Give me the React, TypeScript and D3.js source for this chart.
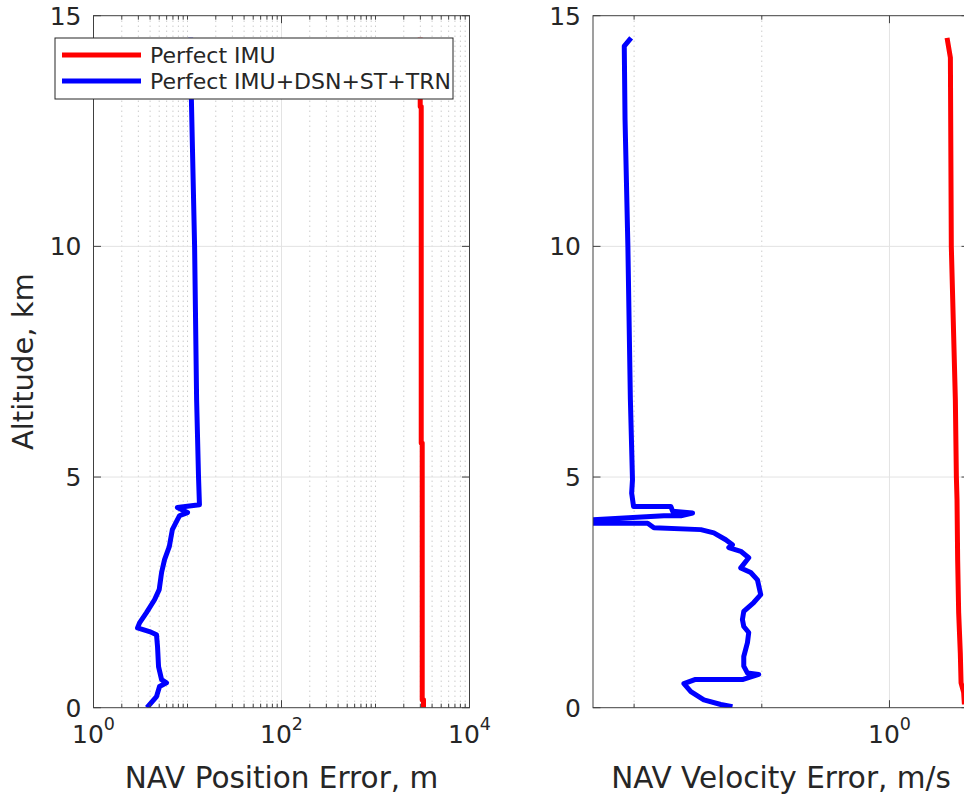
import React, { useRef, useEffect } from 'react';
import * as d3 from 'd3';

// NAV position error (left panel), altitude km / error m
const posBlueAlt = [14.52, 13.18, 10.0, 6.68, 5.0, 4.40, 4.34, 4.23, 4.16, 4.03, 3.86, 3.49, 3.21, 2.93, 2.56, 2.34, 2.06, 1.84, 1.73, 1.65, 1.58, 1.32, 0.89, 0.61, 0.54, 0.46, 0.24, 0.0];
const posBlueErr = [10.8, 11.0, 11.9, 12.5, 13.1, 13.4, 7.8, 10.0, 8.2, 7.6, 6.9, 6.4, 5.7, 5.3, 5.0, 4.46, 3.66, 3.09, 2.94, 3.94, 4.68, 4.80, 4.92, 5.3, 5.98, 5.04, 4.68, 3.7];
const posRedAlt = [14.52, 13.03, 13.03, 5.74, 5.74, 0.17, 0.17, 0.0];
const posRedErr = [2990, 2990, 3065, 3065, 3140, 3140, 3240, 3240];

// NAV velocity error (right panel), altitude km / error m/s
const velBlueAlt = [14.52, 14.34, 12.75, 10.0, 6.68, 4.94, 4.65, 4.36, 4.36, 4.26, 4.22, 4.16, 4.16, 4.06, 4.00, 4.00, 3.90, 3.86, 3.79, 3.64, 3.53, 3.47, 3.39, 3.25, 3.03, 2.93, 2.77, 2.45, 2.28, 2.09, 1.91, 1.76, 1.63, 1.41, 1.11, 0.90, 0.75, 0.72, 0.61, 0.61, 0.52, 0.35, 0.17, 0.07, 0.02];
const velBlueErr = [0.246, 0.237, 0.238, 0.2417, 0.245, 0.2478, 0.2467, 0.2493, 0.3053, 0.3081, 0.3434, 0.3223, 0.2939, 0.19, 0.19, 0.2691, 0.2784, 0.3591, 0.3854, 0.4112, 0.4264, 0.418, 0.4461, 0.4658, 0.4461, 0.4709, 0.4884, 0.4972, 0.4786, 0.4534, 0.4501, 0.4534, 0.4658, 0.4626, 0.4534, 0.4534, 0.4626, 0.4918, 0.4501, 0.3477, 0.3276, 0.3402, 0.3651, 0.4003, 0.4264];
const velRedAlt = [14.52, 14.09, 10.0, 6.68, 5.0, 4.51, 3.21, 2.06, 1.19, 0.54, 0.33, 0.07];
const velRedErr = [1.367, 1.392, 1.399, 1.430, 1.438, 1.443, 1.448, 1.456, 1.469, 1.475, 1.496, 1.502];

const altTicks = [0, 5, 10, 15];
const posMajorTicks = [1, 100, 10000];
const velMajorTicks = [1];
const velMinorTicks = [0.25, 0.5];
const legendLabels = ['Perfect IMU', 'Perfect IMU+DSN+ST+TRN'];
const legendColors = ['#ff0000', '#0000ff'];

const FONT = 'DejaVu Sans, sans-serif';
const TXT = '#262626';

function App() {
  const svgRef = useRef(null);

  useEffect(() => {
    const svg = d3.select(svgRef.current);
    svg.selectAll('*').remove();

    const top = 15.7, bottom = 707.7;
    const y = d3.scaleLinear().domain([0, 15]).range([bottom, top]);

    const posMinor = [];
    for (let e = 0; e < 4; e++) for (let k = 2; k <= 10; k++) {
      const v = k * Math.pow(10, e);
      if (!posMajorTicks.includes(v)) posMinor.push(v);
    }

    const panels = [
      {
        id: 'pos', x0: 93.5, x1: 469.5, domain: [1, 10000],
        major: posMajorTicks, minor: posMinor,
        label: 'NAV Position Error, m',
        series: [
          { alt: posRedAlt, err: posRedErr, color: legendColors[0] },
          { alt: posBlueAlt, err: posBlueErr, color: legendColors[1] },
        ],
      },
      {
        id: 'vel', x0: 593, x1: 969, domain: [0.2, 1.54],
        major: velMajorTicks, minor: velMinorTicks,
        label: 'NAV Velocity Error, m/s',
        series: [
          { alt: velRedAlt, err: velRedErr, color: legendColors[0] },
          { alt: velBlueAlt, err: velBlueErr, color: legendColors[1] },
        ],
      },
    ];

    panels.forEach(p => {
      const x = d3.scaleLog().domain(p.domain).range([p.x0, p.x1]);
      const g = svg.append('g');

      g.append('clipPath').attr('id', 'clip-' + p.id)
        .append('rect').attr('x', p.x0).attr('y', top)
        .attr('width', p.x1 - p.x0).attr('height', bottom - top);

      // minor grid (dotted)
      g.selectAll('.mgrid').data(p.minor).join('line')
        .attr('x1', d => x(d)).attr('x2', d => x(d))
        .attr('y1', top).attr('y2', bottom)
        .attr('stroke', '#b4b4b4').attr('stroke-width', 1)
        .attr('stroke-dasharray', '1 4');
      // major grid
      g.selectAll('.xgrid').data(p.major).join('line')
        .attr('x1', d => x(d)).attr('x2', d => x(d))
        .attr('y1', top).attr('y2', bottom)
        .attr('stroke', '#e3e3e3').attr('stroke-width', 1);
      g.selectAll('.ygrid').data(altTicks.slice(1, -1)).join('line')
        .attr('x1', p.x0).attr('x2', p.x1)
        .attr('y1', d => y(d)).attr('y2', d => y(d))
        .attr('stroke', '#e3e3e3').attr('stroke-width', 1);

      // data
      const line = d3.line().x(d => x(d[1])).y(d => y(d[0]));
      p.series.forEach(s => {
        const pts = s.alt.map((a, i) => [a, s.err[i]]);
        g.append('path')
          .attr('d', line(pts))
          .attr('fill', 'none')
          .attr('stroke', s.color)
          .attr('stroke-width', 5)
          .attr('stroke-linejoin', 'round')
          .attr('clip-path', `url(#clip-${p.id})`);
      });

      // box
      g.append('rect').attr('x', p.x0).attr('y', top)
        .attr('width', p.x1 - p.x0).attr('height', bottom - top)
        .attr('fill', 'none').attr('stroke', '#404040').attr('stroke-width', 1);

      // x ticks top and bottom
      const xt = [...p.major.map(v => [v, 7.5]), ...p.minor.filter(v => v < p.domain[1]).map(v => [v, 4])];
      xt.forEach(([v, len]) => {
        g.append('line').attr('x1', x(v)).attr('x2', x(v))
          .attr('y1', bottom).attr('y2', bottom - len).attr('stroke', '#404040');
        g.append('line').attr('x1', x(v)).attr('x2', x(v))
          .attr('y1', top).attr('y2', top + len).attr('stroke', '#404040');
      });
      // y ticks
      altTicks.forEach(v => {
        g.append('line').attr('x1', p.x0).attr('x2', p.x0 + 7.5)
          .attr('y1', y(v)).attr('y2', y(v)).attr('stroke', '#404040');
        g.append('line').attr('x1', p.x1).attr('x2', p.x1 - 7.5)
          .attr('y1', y(v)).attr('y2', y(v)).attr('stroke', '#404040');
        g.append('text').attr('x', p.x0 - 12).attr('y', y(v) + 9)
          .attr('text-anchor', 'end').attr('font-family', FONT)
          .attr('font-size', 25).attr('fill', TXT).text(v);
      });

      // x tick labels 10^n
      p.major.forEach(v => {
        const t = g.append('text').attr('x', x(v)).attr('y', 743)
          .attr('text-anchor', 'middle').attr('font-family', FONT)
          .attr('font-size', 25).attr('fill', TXT);
        t.append('tspan').text('10');
        t.append('tspan').attr('dy', -13).attr('font-size', 17.5)
          .text(String(Math.round(Math.log10(v))));
      });

      g.append('text').attr('x', (p.x0 + Math.min(p.x1, 969)) / 2).attr('y', 788)
        .attr('text-anchor', 'middle').attr('font-family', FONT)
        .attr('font-size', 29.5).attr('fill', TXT).text(p.label);
    });

    svg.append('text')
      .attr('transform', `translate(33,${(top + bottom) / 2}) rotate(-90)`)
      .attr('text-anchor', 'middle').attr('font-family', FONT)
      .attr('font-size', 29).attr('fill', TXT).text('Altitude, km');

    // legend
    const lg = svg.append('g');
    lg.append('rect').attr('x', 55).attr('y', 38).attr('width', 398).attr('height', 61)
      .attr('fill', 'white').attr('stroke', '#262626').attr('stroke-width', 1);
    legendLabels.forEach((lab, i) => {
      const yy = 55 + i * 26;
      lg.append('line').attr('x1', 62).attr('x2', 141).attr('y1', yy).attr('y2', yy)
        .attr('stroke', legendColors[i]).attr('stroke-width', 5);
      lg.append('text').attr('x', 150).attr('y', yy + 8)
        .attr('font-family', FONT).attr('font-size', 22).attr('fill', TXT).text(lab);
    });
  }, []);

  return (
    <svg ref={svgRef} width={964} height={796}
      style={{ position: 'absolute', left: 0, top: 0, background: 'white' }} />
  );
}

export default App;
